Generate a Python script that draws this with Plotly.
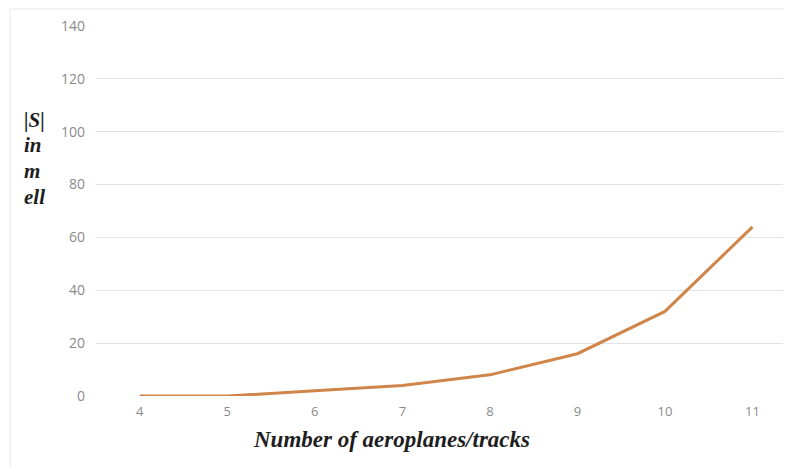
import plotly.graph_objects as go

categories = ["4", "5", "6", "7", "8", "9", "10", "11"]
values = [0, 0, 2, 4, 8, 16, 32, 64]
y_ticks = [0, 20, 40, 60, 80, 100, 120, 140]

# page body has an 8px margin: figure sits at (8, 8)
OFF = 8
W, H = 791 - OFF, 467 - OFF
L, T = 96 - OFF, 26 - OFF
ph = 370
B = H - T - ph
R = 0
pw = W - L - R

def px(x):
    return (x - OFF - L) / pw

def py(y):
    return (H - B - (y - OFF)) / ph

fig = go.Figure()
fig.add_trace(go.Scatter(x=categories, y=values, mode="lines",
                         line=dict(color="#D0864B", width=3), hoverinfo="skip"))

ann = []
for txt, yy in [("|S|", 120), ("in", 145), ("m", 171), ("ell", 197)]:
    ann.append(dict(text=f"<b><i>{txt}</i></b>", x=px(22), y=py(yy), xref="paper", yref="paper",
                    xanchor="left", yanchor="middle", showarrow=False,
                    font=dict(family="Liberation Serif", size=21, color="#1e1e1e")))
ann.append(dict(text="<b><i>Number of aeroplanes/tracks</i></b>", x=px(391), y=py(439),
                xref="paper", yref="paper", xanchor="center", yanchor="middle", showarrow=False,
                font=dict(family="Liberation Serif", size=23, color="#1e1e1e")))

fig.update_layout(
    width=W, height=H,
    margin=dict(l=L, r=R, t=T, b=B),
    paper_bgcolor="white", plot_bgcolor="white",
    showlegend=False,
    annotations=ann,
    shapes=[dict(type="rect", xref="paper", yref="paper",
                 x0=px(10), x1=px(800), y0=py(480), y1=py(9),
                 line=dict(color="#e6e6e6", width=1), layer="below")],
    xaxis=dict(type="category", range=[-0.5, 7.44], showgrid=False, zeroline=False,
               showline=False, ticks="", tickfont=dict(family="Open Sans", size=13, color="#8a8a8a"),
               ticklabelstandoff=6),
    yaxis=dict(range=[0, 140], tickvals=y_ticks, showgrid=True, gridcolor="#e2e2e2",
               gridwidth=1, zeroline=False, showline=False, ticks="",
               tickfont=dict(family="Open Sans", size=14, color="#8a8a8a"),
               ticklabelstandoff=10),
)

fig.write_html("out.html")
